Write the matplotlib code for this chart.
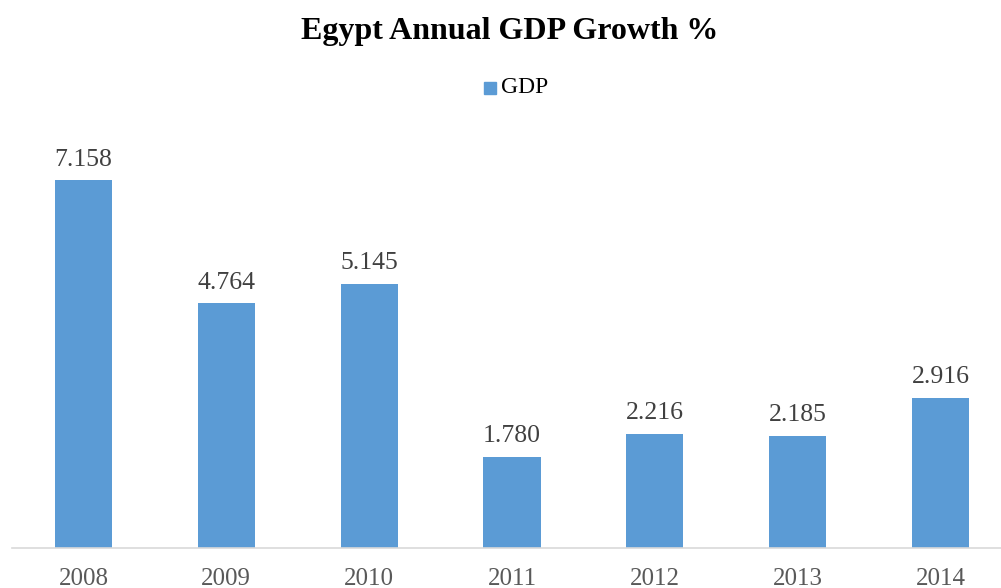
import matplotlib.pyplot as plt
from matplotlib.patches import Rectangle

years = ["2008", "2009", "2010", "2011", "2012", "2013", "2014"]
gdp_growth = [7.158, 4.764, 5.145, 1.780, 2.216, 2.185, 2.916]

BAR_COLOR = "#5B9BD5"
TEXT_GRAY = "#595959"

plt.rcParams["font.family"] = ["Liberation Serif", "DejaVu Serif"]


def main() -> None:
    fig = plt.figure(figsize=(10.01, 5.88), dpi=100)
    # plot area runs a little past the right edge, like the original layout
    ax = fig.add_axes([12 / 1001, 40 / 588, 1000 / 1001, 411 / 588])

    x = range(len(years))
    bars = ax.bar(x, gdp_growth, width=0.4, color=BAR_COLOR, zorder=2)
    for rect, val in zip(bars, gdp_growth):
        ax.annotate(f"{val:.3f}", (rect.get_x() + rect.get_width() / 2, val),
                    xytext=(0, 7), textcoords="offset points",
                    ha="center", va="bottom", fontsize=18.5, color="#404040")

    ax.set_xlim(-0.5, 6.5)
    ax.set_ylim(0, 8)
    ax.set_xticks(list(x))
    ax.set_xticklabels(years, fontsize=18, color=TEXT_GRAY)
    ax.tick_params(axis="x", length=0, pad=14.5)
    ax.set_yticks([])
    for side in ("top", "right", "left"):
        ax.spines[side].set_visible(False)
    ax.spines["bottom"].set_color("#D9D9D9")
    ax.spines["bottom"].set_linewidth(1.2)

    fig.text(510 / 1001, 1 - 31 / 588, "Egypt Annual GDP Growth %", ha="center", va="center",
             fontsize=23, fontweight="bold", color="black")

    # legend: small square + label
    fig.patches.append(Rectangle((484 / 1001, 1 - 94 / 588), 12 / 1001, 12 / 588,
                                 transform=fig.transFigure, color=BAR_COLOR))
    fig.text(501 / 1001, 1 - 88 / 588, "GDP", ha="left", va="center",
             fontsize=17, color="black")

    fig.savefig("out.png", dpi=100)


if __name__ == "__main__":
    main()
